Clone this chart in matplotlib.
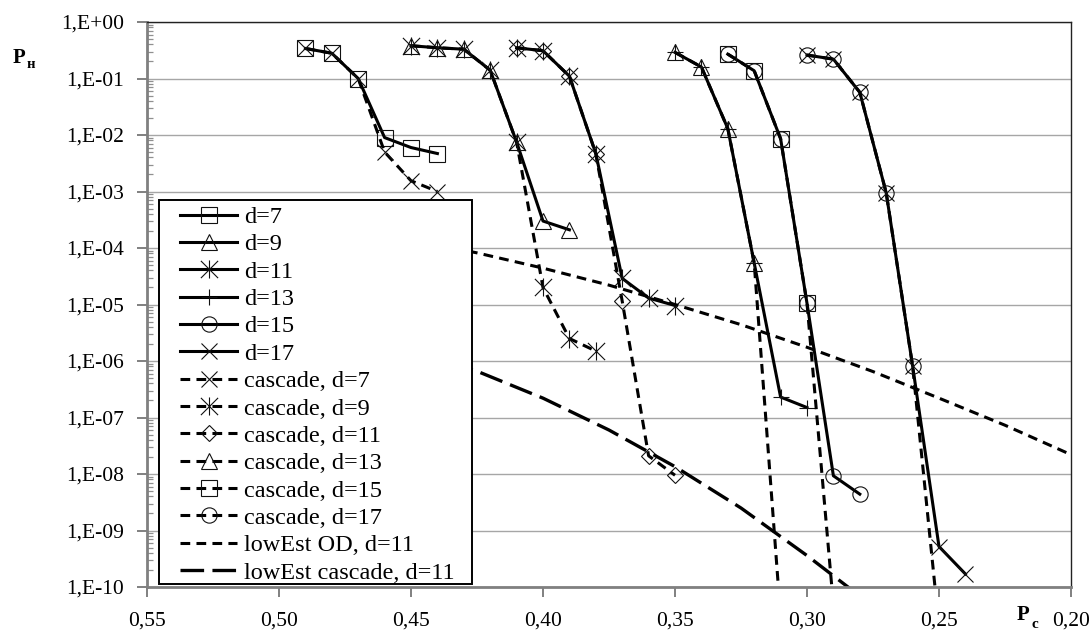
import numpy as np
import matplotlib
matplotlib.use('Agg')
import matplotlib.pyplot as plt
from matplotlib.path import Path
from matplotlib.patches import Rectangle
from matplotlib.ticker import FixedLocator, LogLocator, FuncFormatter, NullFormatter, NullLocator

plt.rcParams['font.family'] = ['Liberation Serif', 'DejaVu Serif']
plt.rcParams['lines.scale_dashes'] = False

# ---------------- data ----------------
d7_x = [0.49, 0.48, 0.47, 0.46, 0.45, 0.44]
d7_y = [0.34, 0.28, 0.10, 9.0e-3, 6.0e-3, 4.7e-3]
c7_x = [0.49, 0.48, 0.47, 0.46, 0.45, 0.44]
c7_y = [0.34, 0.28, 0.10, 5.0e-3, 1.55e-3, 1.0e-3]

d9_x = [0.45, 0.44, 0.43, 0.42, 0.41, 0.40, 0.39]
d9_y = [0.38, 0.35, 0.33, 0.14, 7.5e-3, 3.0e-4, 2.1e-4]
c9_x = [0.45, 0.44, 0.43, 0.42, 0.41, 0.40, 0.39, 0.38]
c9_y = [0.38, 0.35, 0.33, 0.14, 7.5e-3, 2.0e-5, 2.5e-6, 1.5e-6]

d11_x = [0.41, 0.40, 0.39, 0.38, 0.37, 0.36, 0.35]
d11_y = [0.35, 0.31, 0.11, 4.7e-3, 2.9e-5, 1.3e-5, 9.6e-6]
c11_x = [0.41, 0.40, 0.39, 0.38, 0.37, 0.36, 0.35]
c11_y = [0.35, 0.31, 0.11, 4.7e-3, 1.15e-5, 2.1e-8, 9.5e-9]

d13_x = [0.35, 0.34, 0.33, 0.32, 0.31, 0.30]
d13_y = [0.29, 0.16, 0.013, 5.4e-5, 2.3e-7, 1.5e-7]
c13_x = [0.35, 0.34, 0.33, 0.32, 0.31]
c13_y = [0.29, 0.16, 0.013, 5.4e-5, 3.0e-11]

d15_x = [0.33, 0.32, 0.31, 0.30, 0.29, 0.28]
d15_y = [0.27, 0.137, 8.6e-3, 1.05e-5, 9.3e-9, 4.4e-9]
c15_x = [0.33, 0.32, 0.31, 0.30, 0.29]
c15_y = [0.27, 0.137, 8.6e-3, 1.05e-5, 4.8e-11]

d17_x = [0.30, 0.29, 0.28, 0.27, 0.26, 0.25, 0.24]
d17_y = [0.26, 0.22, 0.057, 9.5e-4, 8.2e-7, 5.2e-10, 1.7e-10]
c17_x = [0.30, 0.29, 0.28, 0.27, 0.26, 0.25]
c17_y = [0.26, 0.22, 0.057, 9.5e-4, 8.2e-7, 2.0e-11]

lod_x = [0.47, 0.45, 0.425, 0.40, 0.375, 0.35, 0.325, 0.30, 0.275, 0.25, 0.225, 0.20]
lod_y = [2.1e-4, 1.4e-4, 8.2e-5, 4.4e-5, 2.2e-5, 1.0e-5, 4.4e-6, 1.75e-6, 6.5e-7, 2.2e-7, 7.3e-8, 2.2e-8]

lca_x = [0.47, 0.45, 0.425, 0.40, 0.375, 0.35, 0.325, 0.30, 0.28]
lca_y = [2.8e-6, 1.6e-6, 6.6e-7, 2.2e-7, 6.0e-8, 1.35e-8, 2.5e-9, 3.6e-10, 6.9e-11]

labels = ['d=7', 'd=9', 'd=11', 'd=13', 'd=15', 'd=17',
          'cascade, d=7', 'cascade, d=9', 'cascade, d=11', 'cascade, d=13',
          'cascade, d=15', 'cascade, d=17', 'lowEst OD, d=11', 'lowEst cascade, d=11']

x_ticks = [0.55, 0.50, 0.45, 0.40, 0.35, 0.30, 0.25, 0.20]
y_ticks = [1e0, 1e-1, 1e-2, 1e-3, 1e-4, 1e-5, 1e-6, 1e-7, 1e-8, 1e-9, 1e-10]

# ---------------- figure ----------------
W, H = 1091, 631
fig = plt.figure(figsize=(W / 100, H / 100), dpi=100)
ax = fig.add_axes([147 / W, 1 - 587 / H, (1071 - 147) / W, (587 - 22) / H])
ax.set_yscale('log')
ax.set_xlim(0.55, 0.20)
ax.set_ylim(1e-10, 1)

star = Path([(-1, -1), (1, 1), (-1, 1), (1, -1), (0, -1.05), (0, 1.05)],
            [Path.MOVETO, Path.LINETO] * 3)

mk = dict(mfc='none', mec='#111111', mew=0.8)
solid = dict(color='black', lw=2.2, ls='-', solid_joinstyle='round')
dash = dict(color='black', lw=2.2, ls=(0, (7, 4.5)))

ax.plot(d7_x, d7_y, marker='s', ms=11, **solid, **mk, label=labels[0])
ax.plot(d9_x, d9_y, marker='^', ms=12, **solid, **mk, label=labels[1])
ax.plot(d11_x, d11_y, marker=star, ms=13, **solid, **mk, label=labels[2])
ax.plot(d13_x, d13_y, marker='+', ms=12, **solid, **mk, label=labels[3])
ax.plot(d15_x, d15_y, marker='o', ms=11, **solid, **mk, label=labels[4])
ax.plot(d17_x, d17_y, marker='x', ms=12, **solid, **mk, label=labels[5])

ax.plot(c7_x, c7_y, marker='x', ms=12, **dash, **mk, label=labels[6])
ax.plot(c9_x, c9_y, marker=star, ms=13, **dash, **mk, label=labels[7])
ax.plot(c11_x, c11_y, marker='D', ms=8.2, **dash, **mk, label=labels[8])
ax.plot(c13_x, c13_y, marker='^', ms=12, **dash, **mk, label=labels[9])
ax.plot(c15_x, c15_y, marker='s', ms=11.5, **dash, **mk, label=labels[10])
ax.plot(c17_x, c17_y, marker='o', ms=11, **dash, **mk, label=labels[11])

ax.plot(lod_x, lod_y, color='black', lw=2.2, ls=(0, (7, 4.5)), label=labels[12])
ax.plot(lca_x, lca_y, color='black', lw=2.4, ls=(0, (17, 6)), label=labels[13])

# ---------------- axes styling ----------------
ax.xaxis.set_major_locator(FixedLocator(x_ticks))
ax.xaxis.set_minor_locator(NullLocator())
ax.xaxis.set_major_formatter(FuncFormatter(lambda v, p: f"{v:.2f}".replace('.', ',')))
ax.yaxis.set_major_locator(FixedLocator(y_ticks))
ax.yaxis.set_minor_locator(LogLocator(base=10, subs=np.arange(2, 10), numticks=200))
ax.yaxis.set_minor_formatter(NullFormatter())
ax.yaxis.set_major_formatter(FuncFormatter(
    lambda v, p: "1,E" + f"{int(round(np.log10(v))):+03d}"))

ax.tick_params(axis='both', which='major', direction='out', length=7, width=1.4,
               color='#808080', labelsize=15.5, labelcolor='black')
ax.tick_params(axis='y', which='major', pad=9.5)
ax.tick_params(axis='x', which='major', pad=10.5)
ax.tick_params(axis='y', which='minor', direction='in', length=4.5, width=0.9, color='#909090')

for s in ('left', 'bottom'):
    ax.spines[s].set_color('#808080')
    ax.spines[s].set_linewidth(2.0)
for s in ('top', 'right'):
    ax.spines[s].set_color('#222222')
    ax.spines[s].set_linewidth(1.0)

ax.yaxis.grid(True, which='major', color='#a6a6a6', lw=1.0)
ax.set_axisbelow(True)

# ---------------- legend ----------------
frame = Rectangle((159 / W, 1 - 584 / H), (472 - 159) / W, (584 - 200) / H,
                  transform=fig.transFigure, facecolor='white', edgecolor='black',
                  lw=1.4, zorder=4, clip_on=False)
ax.add_patch(frame)
leg = ax.legend(loc='upper left', bbox_to_anchor=(180 / W, 1 - 206 / H),
                bbox_transform=fig.transFigure, frameon=False, fontsize=17.5,
                borderpad=0, borderaxespad=0, handlelength=2.35, handletextpad=0.3,
                labelspacing=0.22, numpoints=1)
leg.set_zorder(5)

# ---------------- axis titles ----------------
fig.text(13 / W, 1 - 63 / H, 'P', fontsize=15, fontweight='bold', va='baseline', ha='left')
fig.text(27 / W, 1 - 68 / H, 'н', fontsize=10.5, fontweight='bold', va='baseline', ha='left')
fig.text(1017 / W, 1 - 620 / H, 'P', fontsize=15, fontweight='bold', va='baseline', ha='left')
fig.text(1031 / W, 1 - 628 / H, 'c', fontsize=11, fontweight='bold', va='baseline', ha='left')

fig.savefig('out.png', dpi=100)
